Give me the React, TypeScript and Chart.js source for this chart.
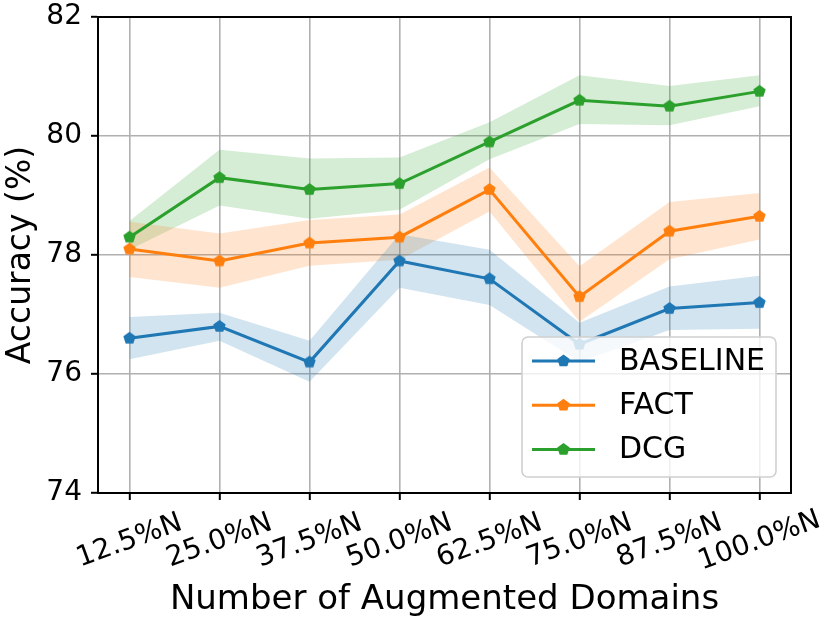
import { useEffect, useRef } from "react";
import { Chart, registerables, type ChartConfiguration, type Plugin } from "chart.js";

Chart.register(...registerables);

const domainLabels = ["12.5%N", "25.0%N", "37.5%N", "50.0%N", "62.5%N", "75.0%N", "87.5%N", "100.0%N"];
const yTicks = [74, 76, 78, 80, 82];

const baseline = [76.6, 76.8, 76.2, 77.9, 77.6, 76.5, 77.1, 77.2];
const baselineUpper = [76.96, 77.03, 76.56, 78.35, 78.09, 76.86, 77.47, 77.65];
const baselineLower = [76.25, 76.56, 75.87, 77.45, 77.16, 76.2, 76.74, 76.76];

const fact = [78.1, 77.9, 78.2, 78.3, 79.1, 77.3, 78.4, 78.65];
const factUpper = [78.56, 78.36, 78.59, 78.68, 79.47, 77.81, 78.89, 79.04];
const factLower = [77.63, 77.45, 77.82, 77.92, 78.73, 76.88, 77.93, 78.26];

const dcg = [78.3, 79.3, 79.1, 79.2, 79.9, 80.6, 80.5, 80.75];
const dcgUpper = [78.57, 79.77, 79.62, 79.64, 80.23, 81.02, 80.84, 81.02];
const dcgLower = [78.09, 78.83, 78.61, 78.76, 79.61, 80.2, 80.18, 80.5];

const series = [
  { name: "BASELINE", color: "#1f77b4", band: "rgba(31,119,180,0.2)", mean: baseline, upper: baselineUpper, lower: baselineLower },
  { name: "FACT", color: "#ff7f0e", band: "rgba(255,127,14,0.2)", mean: fact, upper: factUpper, lower: factLower },
  { name: "DCG", color: "#2ca02c", band: "rgba(44,160,44,0.2)", mean: dcg, upper: dcgUpper, lower: dcgLower },
];

const FONT = "'DejaVu Sans', sans-serif";
const MARKER_R = 6.5;

function pentagonPath(ctx: CanvasRenderingContext2D, cx: number, cy: number, r: number) {
  ctx.beginPath();
  for (let k = 0; k < 5; k++) {
    const a = -Math.PI / 2 + (k * 2 * Math.PI) / 5;
    const px = cx + r * Math.cos(a);
    const py = cy + r * Math.sin(a);
    if (k === 0) ctx.moveTo(px, py);
    else ctx.lineTo(px, py);
  }
  ctx.closePath();
}

function makeMarker(color: string): HTMLCanvasElement {
  const size = Math.ceil(MARKER_R * 2 + 2);
  const c = document.createElement("canvas");
  c.width = size;
  c.height = size;
  const g = c.getContext("2d")!;
  g.fillStyle = color;
  pentagonPath(g, size / 2, size / 2, MARKER_R);
  g.fill();
  return c;
}

const toPoints = (vals: number[]) => vals.map((v, i) => ({ x: i, y: v }));

export default function App(): JSX.Element {
  const canvasRef = useRef<HTMLCanvasElement>(null);
  const chartRef = useRef<Chart | null>(null);

  useEffect(() => {
    document.body.style.margin = "0";
    const canvas = canvasRef.current;
    if (!canvas) return;

    Chart.defaults.font.family = FONT;

    const markers = series.map((s) => makeMarker(s.color));

    const datasets: any[] = [];
    series.forEach((s, i) => {
      datasets.push({
        label: s.name + " upper",
        data: toPoints(s.upper),
        borderColor: "transparent",
        borderWidth: 0,
        pointRadius: 0,
        fill: false,
        order: 1,
      });
      datasets.push({
        label: s.name + " lower",
        data: toPoints(s.lower),
        borderColor: "transparent",
        borderWidth: 0,
        pointRadius: 0,
        backgroundColor: s.band,
        fill: "-1",
        order: 1,
      });
      datasets.push({
        label: s.name,
        data: toPoints(s.mean),
        borderColor: s.color,
        backgroundColor: s.color,
        borderWidth: 3,
        pointStyle: markers[i],
        pointRadius: 6,
        fill: false,
        order: 0,
      });
    });

    const gridOpts = { color: "#b0b0b0", lineWidth: 1.6, tickColor: "#000", tickWidth: 2, tickLength: 7 };
    const borderOpts = { display: true, color: "#000", width: 2 };

    const decorPlugin: Plugin = {
      id: "decor",
      afterDraw(chart) {
        const { ctx, chartArea, scales } = chart;
        ctx.save();
        // frame
        ctx.strokeStyle = "#000";
        ctx.lineWidth = 2;
        ctx.strokeRect(chartArea.left, chartArea.top, chartArea.right - chartArea.left, chartArea.bottom - chartArea.top);

        // rotated x tick labels, centred on the tick
        ctx.fillStyle = "#000";
        ctx.font = `28px ${FONT}`;
        ctx.textAlign = "center";
        ctx.textBaseline = "middle";
        domainLabels.forEach((lab, i) => {
          const x = scales["x"].getPixelForValue(i);
          ctx.save();
          ctx.translate(x, chartArea.bottom + 48);
          ctx.rotate((-20 * Math.PI) / 180);
          ctx.fillText(lab, 0, 0);
          ctx.restore();
        });

        // legend
        const w = 254;
        const h = 140;
        const bx = chartArea.right - 15 - w;
        const by = chartArea.bottom - 16 - h;
        ctx.beginPath();
        ctx.roundRect(bx, by, w, h, 6);
        ctx.fillStyle = "rgba(255,255,255,0.8)";
        ctx.fill();
        ctx.strokeStyle = "#d0d0d0";
        ctx.lineWidth = 1.6;
        ctx.stroke();
        ctx.font = `30px ${FONT}`;
        ctx.textAlign = "left";
        series.forEach((s, i) => {
          const cy = by + 24 + i * 44.3;
          ctx.strokeStyle = s.color;
          ctx.lineWidth = 3;
          ctx.beginPath();
          ctx.moveTo(bx + 10, cy);
          ctx.lineTo(bx + 73, cy);
          ctx.stroke();
          ctx.fillStyle = s.color;
          pentagonPath(ctx, bx + 41.5, cy, MARKER_R);
          ctx.fill();
          ctx.fillStyle = "#000";
          ctx.fillText(s.name, bx + 97, cy + 1);
        });
        ctx.restore();
      },
    };

    const config: ChartConfiguration = {
      type: "line",
      data: { datasets },
      options: {
        responsive: false,
        animation: false,
        layout: { padding: { top: 17, right: 39, left: 0, bottom: 0 } },
        plugins: {
          legend: { display: false },
          tooltip: { enabled: false },
          filler: { drawTime: "beforeDatasetsDraw" },
        },
        scales: {
          x: {
            type: "linear",
            min: -0.35,
            max: domainLabels.length - 1 + 0.35,
            afterBuildTicks: (s: any) => {
              s.ticks = domainLabels.map((_, i) => ({ value: i }));
            },
            afterFit: (s: any) => {
              s.height = 128;
              s.paddingLeft = 0;
              s.paddingRight = 0;
            },
            ticks: { display: false },
            grid: gridOpts,
            border: borderOpts,
            title: {
              display: true,
              text: "Number of Augmented Domains",
              color: "#000",
              font: { size: 34 },
              padding: { top: 0, bottom: 0 },
            },
          },
          y: {
            min: 74,
            max: 82,
            afterBuildTicks: (s: any) => {
              s.ticks = yTicks.map((v) => ({ value: v }));
            },
            afterFit: (s: any) => {
              s.width = 98;
              s.paddingTop = 0;
              s.paddingBottom = 0;
            },
            ticks: { color: "#000", font: { size: 28 }, padding: 9 },
            grid: gridOpts,
            border: borderOpts,
            title: {
              display: true,
              text: "Accuracy (%)",
              color: "#000",
              font: { size: 33 },
              padding: { top: 2, bottom: 0 },
            },
          },
        },
      },
      plugins: [decorPlugin],
    };

    chartRef.current?.destroy();
    Chart.getChart(canvas)?.destroy();
    chartRef.current = new Chart(canvas, config);

    return () => {
      chartRef.current?.destroy();
      chartRef.current = null;
    };
  }, []);

  return (
    <div style={{ width: 830, height: 621 }}>
      <canvas ref={canvasRef} width={830} height={621} />
    </div>
  );
}
